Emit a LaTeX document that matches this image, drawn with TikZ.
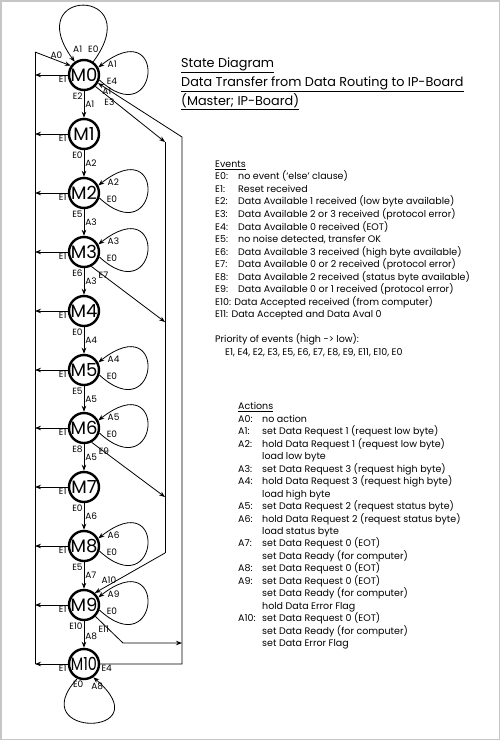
\documentclass[tikz,border=0pt]{standalone}
\usepackage{fontspec}
\setmainfont{Poppins}
\usetikzlibrary{arrows.meta}

\begin{document}
\begin{tikzpicture}[x=1pt,y=-1pt,>={Stealth[length=6pt,width=4.5pt]}]
  \tikzstyle{state}=[circle,draw,line width=2.4pt,minimum size=30pt,inner sep=0pt,font=\fontsize{18}{18}\selectfont]
  \tikzstyle{lbl}=[inner sep=1pt,font=\fontsize{9}{9}\selectfont]
  \tikzstyle{conn}=[line width=0.8pt]
  \tikzstyle{aloop}=[lbl,anchor=west,xshift=8pt,yshift=3pt]
  \tikzstyle{eloop}=[lbl,anchor=west,xshift=6pt,yshift=-1pt]
  \tikzstyle{txt}=[anchor=base west,align=left,inner sep=0pt,font=\fontsize{9.5}{12.55}\selectfont]

  \useasboundingbox (0,0) rectangle (500,740);
  \draw[gray!45,line width=1.5pt] (0.75,0.75) rectangle (499.25,739.25);

  % states
  \node[state] (M0) at (84,75) {M0};
  \node[state] (M1) at (84,134) {M1};
  \node[state] (M2) at (84,193) {M2};
  \node[state] (M3) at (84,252) {M3};
  \node[state] (M4) at (84,311) {M4};
  \node[state] (M5) at (84,370) {M5};
  \node[state] (M6) at (84,428) {M6};
  \node[state] (M7) at (84,487) {M7};
  \node[state] (M8) at (84,546) {M8};
  \node[state] (M9) at (84,605) {M9};
  \node[state] (M10) at (84,664) {\scalebox{0.8}[1]{M10}};

  % bus corners
  \coordinate (L0) at (35,52);
  \coordinate (L10) at (35,664);
  \coordinate (I0) at (165,142);
  \coordinate (I3) at (165,322);
  \coordinate (I6) at (165,497);
  \coordinate (I1) at (165,553);
  \coordinate (O0) at (182,137);
  \coordinate (O10) at (182,664);
  \coordinate (K9) at (123,643);

  % reset line
  \draw[conn] (L10) -- (L0);
  \draw[conn,->] (L0) -- (M0.145) node[lbl,pos=0.6,above] {A0};
  \draw[conn,->] (M0.west) -- (M0.west -| L0) node[lbl,pos=0,below left] {E1};
  \draw[conn,->] (M1.west) -- (M1.west -| L0) node[lbl,pos=0,below left] {E1};
  \draw[conn,->] (M2.west) -- (M2.west -| L0) node[lbl,pos=0,below left] {E1};
  \draw[conn,->] (M3.west) -- (M3.west -| L0) node[lbl,pos=0,below left] {E1};
  \draw[conn,->] (M4.west) -- (M4.west -| L0) node[lbl,pos=0,below left] {E1};
  \draw[conn,->] (M5.west) -- (M5.west -| L0) node[lbl,pos=0,below left] {E1};
  \draw[conn,->] (M6.west) -- (M6.west -| L0) node[lbl,pos=0,below left] {E1};
  \draw[conn,->] (M7.west) -- (M7.west -| L0) node[lbl,pos=0,below left] {E1};
  \draw[conn,->] (M8.west) -- (M8.west -| L0) node[lbl,pos=0,below left] {E1};
  \draw[conn,->] (M9.west) -- (M9.west -| L0) node[lbl,pos=0,below left] {E1};
  \draw[conn,->] (M10.west) -- (L10) node[lbl,pos=0,below left] {E1};

  % main sequence
  \draw[conn,->] (M0) -- (M1) node[lbl,pos=0.2,left] {E2} node[lbl,pos=0.5,right] {A1};
  \draw[conn,->] (M1) -- (M2) node[lbl,pos=0.2,left] {E0} node[lbl,pos=0.5,right] {A2};
  \draw[conn,->] (M2) -- (M3) node[lbl,pos=0.2,left] {E5} node[lbl,pos=0.5,right] {A3};
  \draw[conn,->] (M3) -- (M4) node[lbl,pos=0.2,left] {E6} node[lbl,pos=0.5,right] {A3};
  \draw[conn,->] (M4) -- (M5) node[lbl,pos=0.2,left] {E0} node[lbl,pos=0.5,right] {A4};
  \draw[conn,->] (M5) -- (M6) node[lbl,pos=0.2,left] {E5} node[lbl,pos=0.5,right] {A5};
  \draw[conn,->] (M6) -- (M7) node[lbl,pos=0.2,left] {E8} node[lbl,pos=0.5,right] {A5};
  \draw[conn,->] (M7) -- (M8) node[lbl,pos=0.2,left] {E0} node[lbl,pos=0.5,right] {A6};
  \draw[conn,->] (M8) -- (M9) node[lbl,pos=0.2,left] {E5} node[lbl,pos=0.5,right] {A7};
  \draw[conn,->] (M9) -- (M10) node[lbl,pos=0.2,left] {E10} node[lbl,pos=0.55,right] {A8};

  % self loops
  \draw[conn,->] (M0.55) .. controls +(55,-75) and +(-55,-75) .. (M0.125)
    node[lbl,pos=0,above,yshift=8pt] {E0} node[lbl,pos=1,above,xshift=3pt,yshift=8pt] {A1};
  \draw[conn,->] (M0.-18) .. controls +(60,55) and +(70,-55) .. (M0.28)
    node[eloop,pos=0] {E4} node[aloop,pos=1] {A1};
  \draw[conn,->] (M2.-18) .. controls +(60,55) and +(70,-55) .. (M2.28)
    node[eloop,pos=0] {E0} node[aloop,pos=1] {A2};
  \draw[conn,->] (M3.-18) .. controls +(60,55) and +(70,-55) .. (M3.28)
    node[eloop,pos=0] {E0} node[aloop,pos=1] {A3};
  \draw[conn,->] (M5.-18) .. controls +(60,55) and +(70,-55) .. (M5.28)
    node[eloop,pos=0] {E0} node[aloop,pos=1] {A4};
  \draw[conn,->] (M6.-18) .. controls +(60,55) and +(70,-55) .. (M6.28)
    node[eloop,pos=0] {E0} node[aloop,pos=1] {A5};
  \draw[conn,->] (M8.-18) .. controls +(60,55) and +(70,-55) .. (M8.28)
    node[eloop,pos=0] {E0} node[aloop,pos=1] {A6};
  \draw[conn,->] (M9.-18) .. controls +(60,55) and +(70,-55) .. (M9.28)
    node[eloop,pos=0] {E0} node[aloop,pos=1] {A9};
  \draw[conn,->] (M10.-115) .. controls +(-55,60) and +(70,60) .. (M10.-55)
    node[lbl,pos=0,below,xshift=1pt,yshift=-1pt] {E0} node[lbl,pos=1,below,xshift=4pt,yshift=-4pt] {A8};

  % error bus
  \draw[conn,->] (M0.-45) -- (I0) node[lbl,pos=0.2,below] {E3};
  \draw[conn,->] (M3.-63) -- (I3) node[lbl,pos=0.08,below right] {E7};
  \draw[conn,->] (M6.-62) -- (I6) node[lbl,pos=0.08,below right] {E9};
  \draw[conn] (I0) -- (I1);
  \draw[conn,->] (I1) -- (M9.48) node[lbl,pos=0.8,above] {A10};

  % back to idle
  \draw[conn,->] (M9.-45) -- (K9) node[lbl,pos=0.3,below] {E11} -- (K9 -| O0);
  \draw[conn,->] (M10.east) -- (O10) node[lbl,pos=0,below right] {E4} -- (O0) -- (M0.-30)
    node[lbl,pos=1,below right,xshift=3pt,yshift=-3pt] {A1};

  % texts (anchored at the baseline of the last line)
  \node[txt,font=\fontsize{12.8}{19}\selectfont] (title) at (181,105.5)
    {\underline{State Diagram}\\
     \underline{Data Transfer from Data Routing to IP-Board}\\
     \underline{(Master; IP-Board)}};

  \node[txt] (events) at (215,355.5)
    {\underline{Events}\\
     \makebox[23pt][l]{E0:}no event (‘else’ clause)\\
     \makebox[23pt][l]{E1:}Reset received\\
     \makebox[23pt][l]{E2:}Data Available 1 received (low byte available)\\
     \makebox[23pt][l]{E3:}Data Available 2 or 3 received (protocol error)\\
     \makebox[23pt][l]{E4:}Data Available 0 received (EOT)\\
     \makebox[23pt][l]{E5:}no noise detected, transfer OK\\
     \makebox[23pt][l]{E6:}Data Available 3 received (high byte available)\\
     \makebox[23pt][l]{E7:}Data Available 0 or 2 received (protocol error)\\
     \makebox[23pt][l]{E8:}Data Available 2 received (status byte available)\\
     \makebox[23pt][l]{E9:}Data Available 0 or 1 received (protocol error)\\
     E10: Data Accepted received (from computer)\\
     E11: Data Accepted and Data Aval 0\\[12.55pt]
     Priority of events (high -> low):\\
     \hspace*{10pt}E1, E4, E2, E3, E5, E6, E7, E8, E9, E11, E10, E0};

  \node[txt,font=\fontsize{9.5}{12.45}\selectfont] (actions) at (238,646.5)
    {\underline{Actions}\\
     \makebox[24pt][l]{A0:}no action\\
     \makebox[24pt][l]{A1:}set Data Request 1 (request low byte)\\
     \makebox[24pt][l]{A2:}hold Data Request 1 (request low byte)\\
     \hspace*{24pt}load low byte\\
     \makebox[24pt][l]{A3:}set Data Request 3 (request high byte)\\
     \makebox[24pt][l]{A4:}hold Data Request 3 (request high byte)\\
     \hspace*{24pt}load high byte\\
     \makebox[24pt][l]{A5:}set Data Request 2 (request status byte)\\
     \makebox[24pt][l]{A6:}hold Data Request 2 (request status byte)\\
     \hspace*{24pt}load status byte\\
     \makebox[24pt][l]{A7:}set Data Request 0 (EOT)\\
     \hspace*{24pt}set Data Ready (for computer)\\
     \makebox[24pt][l]{A8:}set Data Request 0 (EOT)\\
     \makebox[24pt][l]{A9:}set Data Request 0 (EOT)\\
     \hspace*{24pt}set Data Ready (for computer)\\
     \hspace*{24pt}hold Data Error Flag\\
     \makebox[24pt][l]{A10:}set Data Request 0 (EOT)\\
     \hspace*{24pt}set Data Ready (for computer)\\
     \hspace*{24pt}set Data Error Flag};
\end{tikzpicture}
\end{document}
